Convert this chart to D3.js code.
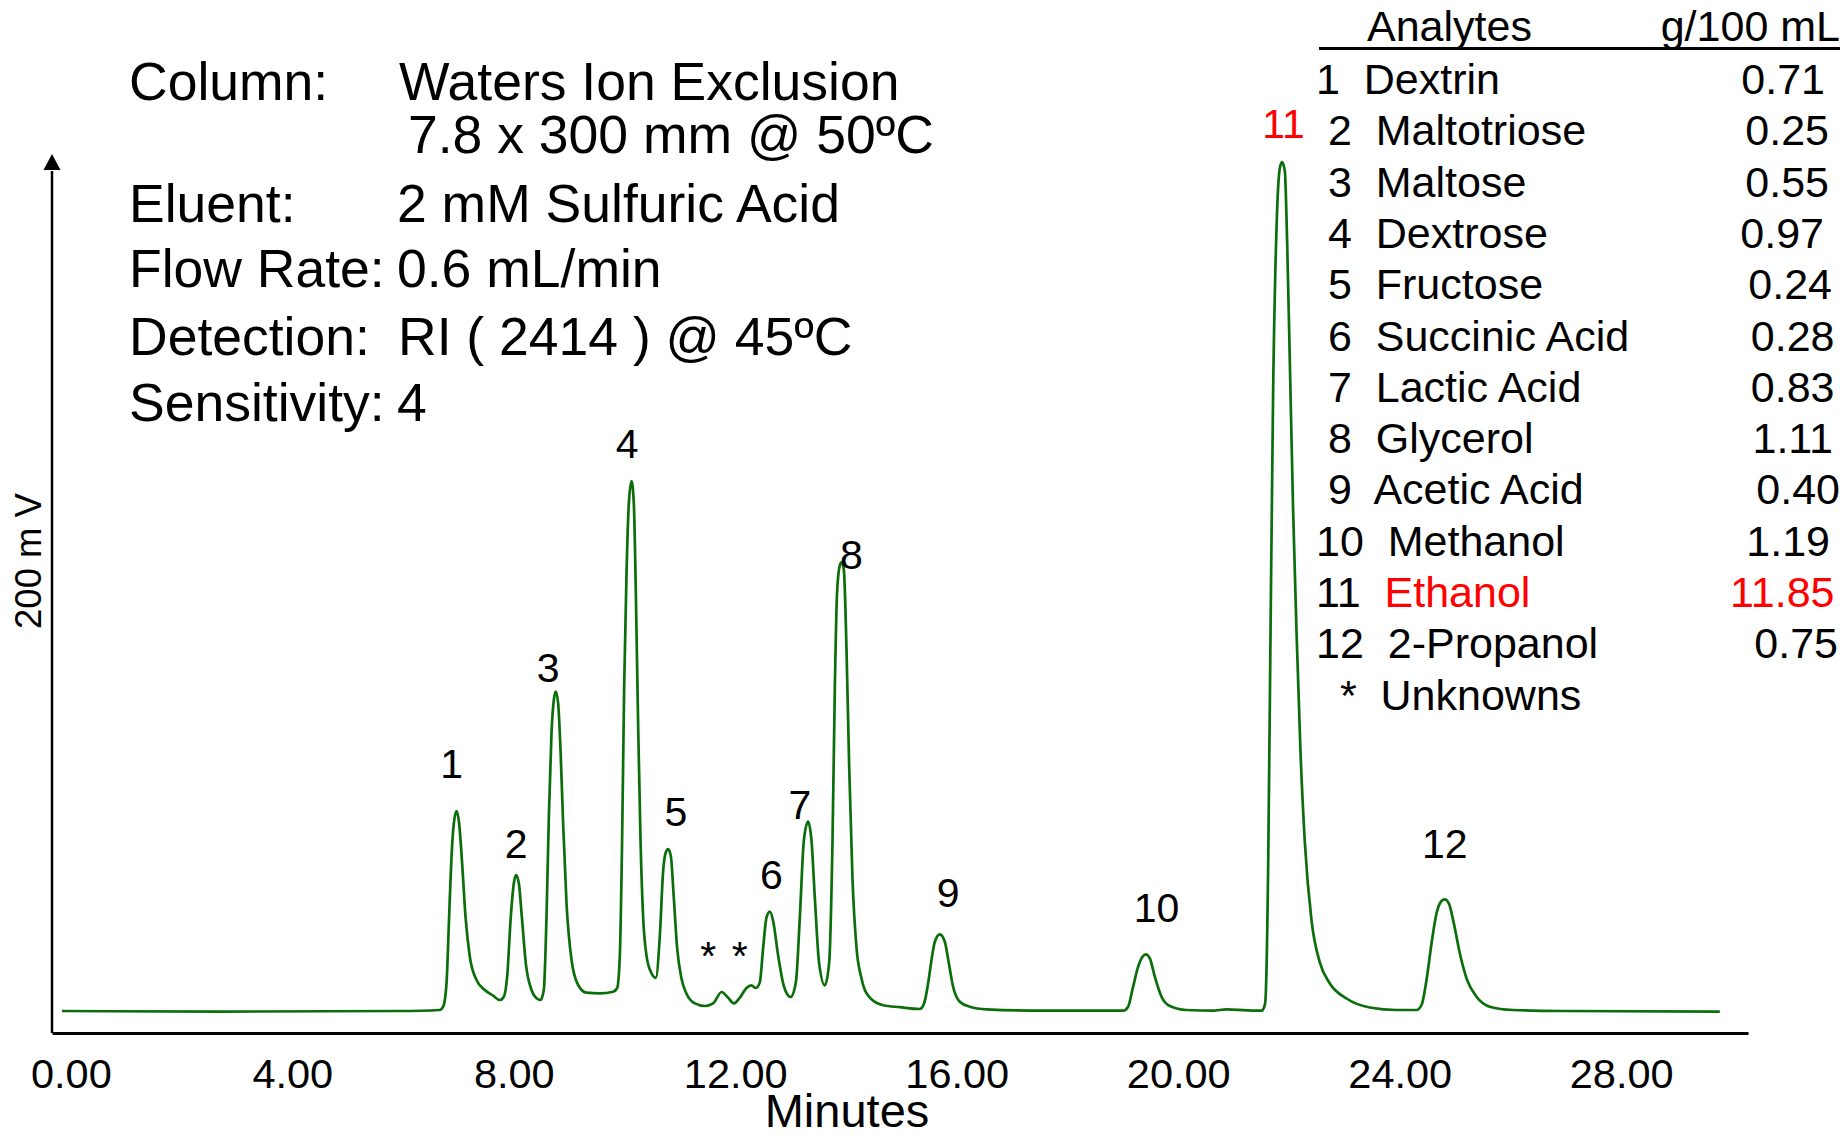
<!DOCTYPE html>
<html>
<head>
<meta charset="utf-8">
<script src="https://cdn.jsdelivr.net/npm/d3@7"></script>
<style>
  html, body { margin: 0; padding: 0; background: #ffffff; }
  svg { display: block; font-family: "Liberation Sans", Arial, Helvetica, sans-serif; }
  text { white-space: pre; }
</style>
</head>
<body>
<svg id="chart" width="1843" height="1138"></svg>
<script>
// ---- Chromatogram trace: retention time (min) and detector response (mV) ----
const traceTime = [
  -0.16, 2.75, 5.94, 6.66,
  6.724, 6.785, 6.832, 6.875, 6.917, 6.966, 7.013, 7.067, 7.128, 7.206, 7.327, 7.477, 7.627, 7.748,
  7.820, 7.880, 7.946, 8.001, 8.042, 8.091, 8.145, 8.217, 8.320, 8.411, 8.483,
  8.542, 8.591, 8.633, 8.681, 8.723, 8.759, 8.801, 8.844, 8.891, 8.952, 9.043, 9.162, 9.314, 9.554, 9.794, 9.866,
  9.915, 9.956, 9.993, 10.036, 10.077, 10.126, 10.168, 10.204, 10.246, 10.289, 10.336, 10.397, 10.469, 10.565,
  10.637, 10.697, 10.746, 10.787, 10.836, 10.890, 10.950, 11.029, 11.120, 11.269, 11.450, 11.600,
  11.752, 11.871, 11.974, 12.082, 12.203, 12.293, 12.371, 12.443,
  12.503, 12.564, 12.624, 12.684, 12.774, 12.877, 12.998,
  13.094, 13.166, 13.238, 13.315, 13.377, 13.437, 13.514, 13.617,
  13.695, 13.756, 13.798, 13.839, 13.888, 13.919, 13.960, 14.009, 14.056, 14.117, 14.190, 14.280, 14.430, 14.670, 14.972, 15.333,
  15.411, 15.483, 15.544, 15.604, 15.694, 15.784, 15.857, 15.934, 16.055, 16.236, 16.538, 17.621, 19.005,
  19.095, 19.185, 19.276, 19.355, 19.415, 19.487, 19.577, 19.698, 19.848, 20.150, 20.630, 20.872, 21.233, 21.504,
  21.564, 21.582, 21.623, 21.667, 21.714, 21.775, 21.835, 21.876, 21.925, 21.966, 22.015, 22.075, 22.136, 22.208,
  22.286, 22.407, 22.557, 22.738, 23.039, 23.460, 23.942,
  24.303, 24.394, 24.484, 24.575, 24.665, 24.755, 24.815, 24.887, 24.977, 25.085, 25.217, 25.387, 25.627, 26.048, 26.951, 29.781
];
const traceSignal = [
  0, -0.3, 0, 0.5,
  2.15, 13.85, 47.15, 77.15, 93.85, 100, 93.85, 73.85, 47.15, 27.15, 15.5, 10.5, 7.65, 5.5,
  7.15, 17.15, 47.15, 63.85, 68, 63.85, 47.15, 23.85, 10.5, 6.35, 5.5,
  10.5, 47.15, 97.15, 138.85, 155.5, 159.65, 153.85, 130.5, 93.85, 53.85, 25.5, 13, 9.15, 8.85, 9.65, 11.35,
  27.7, 85.1, 161.6, 219, 253.4, 264.9, 253.5, 209.5, 142.5, 85.1, 46.85, 27.7, 20, 16.6,
  37.3, 69.8, 79.35, 80.9, 77.5, 56.5, 31.5, 16.25, 8.6, 3.8, 2.5, 3.8,
  9.5, 6.65, 3.8, 6.65, 11.5, 12.8, 11.5, 14.3,
  31.5, 46.85, 49.7, 45, 27.7, 12.5, 7,
  14.3, 46.85, 85.1, 94.65, 85.1, 56.5, 23.9, 12.8,
  23.9, 85.1, 161.6, 209.5, 222.8, 224.35, 220.9, 180.75, 123.35, 66, 31.5, 16.25, 6.65, 2.85, 1.9, 1,
  3.85, 13.85, 25.5, 34.65, 38.35, 34.65, 23.85, 12.15, 4.65, 2.15, 0.85, 0.15, 0.15,
  2.15, 12.15, 22.15, 27.15, 28.35, 26.35, 17.15, 7.15, 2.5, 0.5, 0.15, 0.85, 0.35, 0.15,
  3, 9.25, 69.45, 189.8, 310.15, 391.4, 421.5, 424.5, 420, 385.4, 325.2, 250, 189.8, 129.6,
  84.5, 45.35, 24.3, 13.75, 6.25, 1.75, 0.5,
  0.5, 3, 15.5, 33.85, 48.85, 55, 55.85, 53.85, 43.85, 28.85, 15.5, 7.15, 2.15, 0.5, 0, -0.35
];

// ---- Peak apexes (numbered analytes) ----
const peakIds     = ["1", "2", "3", "4", "5", "6", "7", "8", "9", "10", "11", "12"];
const peakTimes   = [6.966, 8.042, 8.759, 10.126, 10.787, 12.624, 13.315, 13.919, 15.694, 19.415, 21.876, 24.815];
const peakHeights = [100, 68, 159.65, 264.9, 80.9, 49.7, 94.65, 224.35, 38.35, 28.35, 424.5, 55.85];

// ---- Unidentified peaks ----
const unknownTimes   = [11.752, 12.293];
const unknownHeights = [9.5, 12.8];

// ---- Analyte table ----
const analyteNo      = ["1", " 2", " 3", " 4", " 5", " 6", " 7", " 8", " 9", "10", "11", "12", "  *"];
const analyteNames   = ["Dextrin", "Maltotriose", "Maltose", "Dextrose", "Fructose", "Succinic Acid",
                        "Lactic Acid", "Glycerol", "Acetic Acid", "Methanol", "Ethanol", "2-Propanol", "Unknowns"];
const analyteAmounts = [0.71, 0.25, 0.55, 0.97, 0.24, 0.28, 0.83, 1.11, 0.40, 1.19, 11.85, 0.75, null];
const highlightId = "11";

// ---- Axis ticks and titles ----
const xTickValues = [0, 4, 8, 12, 16, 20, 24, 28];
const xTitle = "Minutes";
const yTitle = "200 m V";

// ---- Method conditions ----
const specLabels = ["Column:", "", "Eluent:", "Flow Rate:", "Detection:", "Sensitivity:"];
const specValues = ["Waters Ion Exclusion", "7.8 x 300 mm @ 50ºC", "2 mM Sulfuric Acid",
                    "0.6 mL/min", "RI ( 2414 ) @ 45ºC", "4"];

// ================= drawing =================
const svg = d3.select("#chart");
const black = "#000000", red = "#ff0000", green = "#0b6e0b";

const x = d3.scaleLinear().domain([-0.34, 30.29]).range([52, 1748]);
const y = d3.scaleLinear().domain([-11, 428.5]).range([1033, 154]);

// x axis: baseline rule with unmarked tick labels
const xAxis = d3.axisBottom(x)
  .tickValues(xTickValues)
  .tickFormat(d3.format(".2f"))
  .tickSize(0)
  .tickSizeOuter(0)
  .tickPadding(26);
const gx = svg.append("g").attr("transform", `translate(0,${y(-11)})`).call(xAxis);
gx.select(".domain").attr("stroke", black).attr("stroke-width", 2.8);
gx.selectAll(".tick text")
  .attr("font-size", 41.5)
  .attr("font-family", "'Liberation Sans', Arial, sans-serif")
  .attr("fill", black);

svg.append("text")
  .attr("x", 847).attr("y", 1127)
  .attr("text-anchor", "middle")
  .attr("font-size", 47)
  .attr("fill", black)
  .text(xTitle);

// y axis: plain rule ending in an arrow head
const yAxis = d3.axisLeft(y).tickValues([]).tickSizeOuter(0);
const gy = svg.append("g").attr("transform", `translate(${x(-0.34)},0)`).call(yAxis);
gy.select(".domain").attr("stroke", black).attr("stroke-width", 2.5)
  .attr("d", `M0,${y(-11)}V${y(420)}`);
const tipX = x(-0.34), tipY = y(428.5);
svg.append("path")
  .attr("d", `M${tipX},${tipY}L${tipX - 8.5},${tipY + 16}L${tipX + 8.5},${tipY + 16}Z`)
  .attr("fill", black);

svg.append("text")
  .attr("transform", "translate(41,561) rotate(-90)")
  .attr("text-anchor", "middle")
  .attr("font-size", 36.5)
  .attr("fill", black)
  .text(yTitle);

// chromatogram trace
const tracePoints = traceTime.map((t, i) => [t, traceSignal[i]]);
const line = d3.line()
  .x(d => x(d[0]))
  .y(d => y(d[1]))
  .curve(d3.curveMonotoneX);
svg.append("path")
  .datum(tracePoints)
  .attr("d", line)
  .attr("fill", "none")
  .attr("stroke", green)
  .attr("stroke-width", 2.7)
  .attr("stroke-linejoin", "round");

// peak number labels, offset (px) from each apex
const peakLabelOffset = [
  [-5, -32.7], [0, -16.7], [-7.7, -10], [-4.4, -23], [7.7, -23], [1.7, -22.3],
  [-8.3, -2.4], [10, 7], [8.3, -27.6], [10.7, -32.6], [1.5, -24], [0, -41]
];
svg.append("g").selectAll("text")
  .data(peakIds)
  .join("text")
  .attr("x", (d, i) => x(peakTimes[i]) + peakLabelOffset[i][0])
  .attr("y", (d, i) => y(peakHeights[i]) + peakLabelOffset[i][1])
  .attr("text-anchor", "middle")
  .attr("font-size", 41)
  .attr("fill", d => d === highlightId ? red : black)
  .text(d => d);

const unknownLabelOffset = [[-13.4, -22], [-11.7, -15.4]];
svg.append("g").selectAll("text")
  .data(unknownTimes)
  .join("text")
  .attr("x", (d, i) => x(d) + unknownLabelOffset[i][0])
  .attr("y", (d, i) => y(unknownHeights[i]) + unknownLabelOffset[i][1])
  .attr("text-anchor", "middle")
  .attr("font-size", 41)
  .attr("fill", black)
  .text("*");

// method conditions block
const specBaselines = [100, 153.3, 221.7, 286.7, 355, 421];
const specValueX = [399, 408, 397, 397, 398, 397];
const spec = svg.append("g").attr("font-size", 53.5).attr("fill", black);
specLabels.forEach((lab, i) => {
  if (lab) spec.append("text").attr("x", 129).attr("y", specBaselines[i]).text(lab);
  spec.append("text").attr("x", specValueX[i]).attr("y", specBaselines[i]).text(specValues[i]);
});

// analyte table
const table = svg.append("g").attr("font-size", 43).attr("fill", black);
table.append("text").attr("x", 1367).attr("y", 41).text("Analytes");
table.append("text").attr("x", 1840).attr("y", 41).attr("text-anchor", "end").text("g/100 mL");
table.append("line")
  .attr("x1", 1319).attr("x2", 1840).attr("y1", 48.5).attr("y2", 48.5)
  .attr("stroke", black).attr("stroke-width", 2.8);

// amounts are hand-set right-aligned, each with its own small shift
const amountShift = [-6, -2, -2, -7, 1, 3.5, 3.5, 2, 9, -1, 3.5, 7];
const rowY = i => 94 + 51.3 * i;
analyteNames.forEach((name, i) => {
  const hot = analyteNo[i].trim() === highlightId;
  const t = table.append("text").attr("x", 1316).attr("y", rowY(i));
  t.append("tspan").text(analyteNo[i] + "  ");
  t.append("tspan").attr("fill", hot ? red : black).text(name);
  if (analyteAmounts[i] !== null) {
    table.append("text")
      .attr("x", 1831 + amountShift[i]).attr("y", rowY(i))
      .attr("text-anchor", "end")
      .attr("fill", hot ? red : black)
      .text(d3.format(".2f")(analyteAmounts[i]));
  }
});
</script>
</body>
</html>
